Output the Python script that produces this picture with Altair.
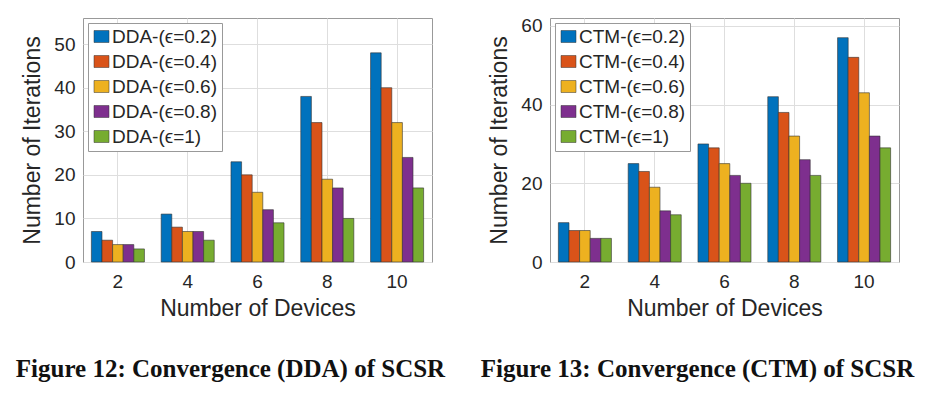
import altair as alt
import pandas as pd

devices = ["2", "4", "6", "8", "10"]
eps = ["0.2", "0.4", "0.6", "0.8", "1"]
dda = [
    [7, 5, 4, 4, 3],
    [11, 8, 7, 7, 5],
    [23, 20, 16, 12, 9],
    [38, 32, 19, 17, 10],
    [48, 40, 32, 24, 17],
]
ctm = [
    [10, 8, 8, 6, 6],
    [25, 23, 19, 13, 12],
    [30, 29, 25, 22, 20],
    [42, 38, 32, 26, 22],
    [57, 52, 43, 32, 29],
]
colors = ["#0072BD", "#D95319", "#EDB120", "#7E2F8E", "#77AC30"]


def panel(prefix, values, ymax, yticks, caption, dx, field):
    labels = [f"{prefix}-(\u03f5={e})" for e in eps]
    rows = []
    for i, d in enumerate(devices):
        for j, lab in enumerate(labels):
            rows.append({"Devices": d, field: lab, "Iter": values[i][j]})
    df = pd.DataFrame(rows)
    return alt.Chart(df).mark_bar(stroke="#333333", strokeWidth=0.6).encode(
        x=alt.X("Devices:N", sort=devices,
                scale=alt.Scale(paddingInner=0.24, paddingOuter=0.12),
                axis=alt.Axis(title="Number of Devices", labelAngle=0, grid=True,
                              bandPosition=0.5, ticks=False, labelPadding=10,
                              titlePadding=6)),
        xOffset=alt.XOffset(f"{field}:N", sort=labels,
                            scale=alt.Scale(paddingInner=0, paddingOuter=0)),
        y=alt.Y("Iter:Q", scale=alt.Scale(domain=[0, ymax], nice=False),
                axis=alt.Axis(title="Number of Iterations", values=yticks,
                              ticks=False, labelPadding=8, titlePadding=9)),
        color=alt.Color(f"{field}:N", sort=labels,
                        scale=alt.Scale(domain=labels, range=colors),
                        legend=alt.Legend(title=None, orient="top-left", offset=5,
                                          symbolType="M-1.25,-1H1.25V1H-1.25Z",
                                          symbolSize=144, symbolStrokeColor="#333",
                                          symbolStrokeWidth=0.5,
                                          labelFontSize=19, labelFont="Liberation Sans",
                                          labelColor="#262626", rowPadding=5,
                                          symbolOffset=0, labelOffset=1,
                                          strokeColor="#999999", fillColor="white",
                                          padding=4, labelLimit=300)),
    ).properties(
        width=349, height=244,
        title=alt.TitleParams(caption, orient="bottom", font="Liberation Serif",
                              fontSize=25, fontWeight="bold", color="#111111",
                              offset=37, dx=dx),
    )


left = panel("DDA", dda, 56, [0, 10, 20, 30, 40, 50],
             "Figure 12: Convergence (DDA) of SCSR", -27, "s1")
right = panel("CTM", ctm, 62, [0, 20, 40, 60],
              "Figure 13: Convergence (CTM) of SCSR", -27, "s2")

chart = alt.hconcat(left, right, spacing=34).resolve_scale(
    color="independent", xOffset="independent"
).properties(
    padding={"left": 7, "top": 8, "right": 0, "bottom": 0}
).configure_view(
    stroke="#999999", strokeWidth=1
).configure_axis(
    labelFont="Liberation Sans", titleFont="Liberation Sans",
    labelFontSize=19, titleFontSize=23, labelColor="#262626", titleColor="#262626",
    titleFontWeight="normal", domain=False, gridColor="#dedede", gridWidth=1,
)

chart.save("out.html", embed_options={"renderer": "svg", "actions": False})
